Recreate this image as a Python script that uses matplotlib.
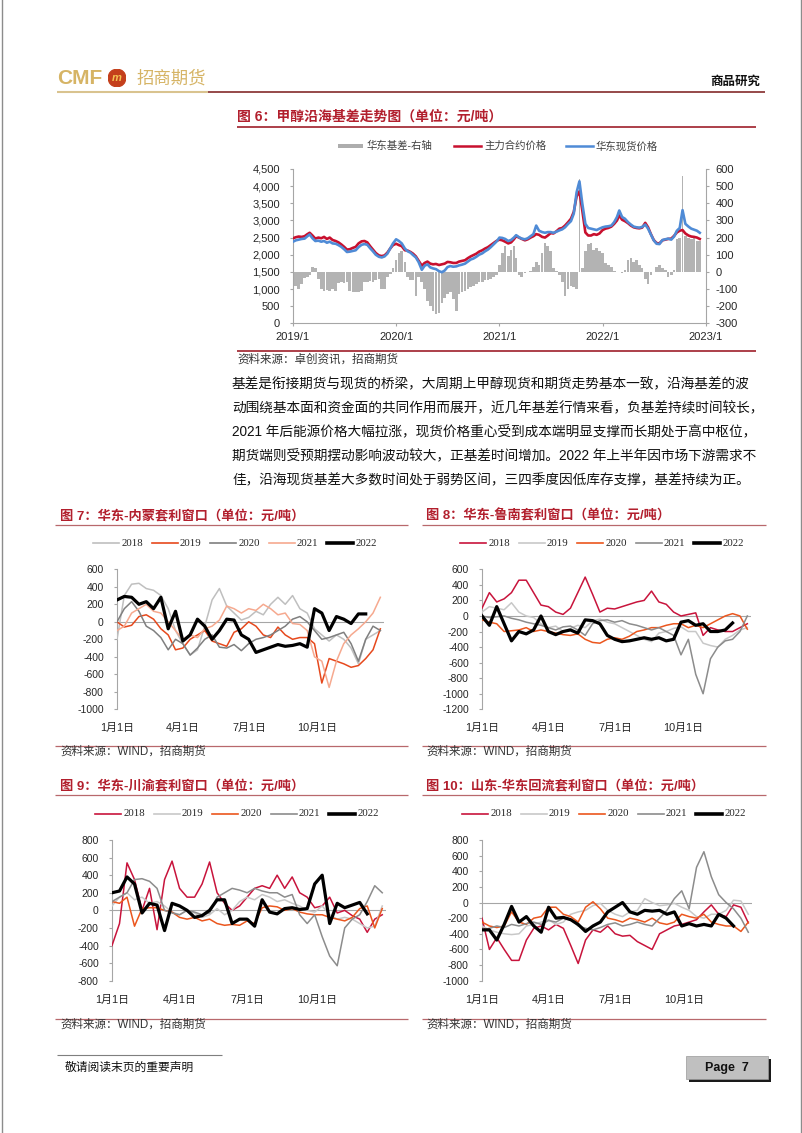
import numpy as np
import pandas as pd
import matplotlib
matplotlib.use('Agg')
import matplotlib.pyplot as plt
import matplotlib.dates as mdates
from matplotlib.lines import Line2D
from matplotlib.patches import Rectangle, Circle
from matplotlib.ticker import FuncFormatter

plt.rcParams['font.family'] = ['Liberation Sans', 'Noto Sans CJK SC']
plt.rcParams['axes.unicode_minus'] = False

# ---------------- figure 6: methanol coastal basis (3 points per month: 1st, 11th, 21st)
fut_2019 = [2480, 2510, 2530, 2520, 2540, 2600, 2640, 2560, 2470, 2500, 2480, 2520,
            2460, 2500, 2430, 2400, 2360, 2300, 2230, 2150, 2160, 2200, 2230, 2330,
            2390, 2400, 2360, 2250, 2150, 2050, 1980, 1960, 1980, 2060, 2180, 2280]
fut_2020 = [2320, 2280, 2250, 2130, 2120, 2080, 2030, 1950, 1820, 1680, 1760, 1800,
            1740, 1720, 1730, 1700, 1720, 1740, 1790, 1780, 1760, 1760, 1800, 1820,
            1840, 1900, 1950, 1990, 2030, 2090, 2130, 2180, 2220, 2280, 2340, 2400]
fut_2021 = [2440, 2420, 2380, 2330, 2360, 2450, 2540, 2500, 2460, 2420, 2450, 2500,
            2540, 2600, 2580, 2520, 2500, 2560, 2630, 2620, 2680, 2760, 2780, 2850,
            2950, 3050, 3250, 3700, 3850, 3300, 2650, 2560, 2560, 2600, 2580, 2620]
fut_2022 = [2720, 2760, 2780, 2820, 2900, 3000, 3150, 3020, 2980, 2920, 2850, 2800,
            2780, 2770, 2790, 2930, 2800, 2600, 2430, 2340, 2330, 2420, 2440, 2460,
            2470, 2550, 2650, 2700, 2720, 2620, 2560, 2530, 2520, 2500, 2460]

spot_2019 = [2380, 2420, 2440, 2460, 2470, 2540, 2590, 2480, 2400, 2410, 2380, 2400,
             2350, 2380, 2330, 2320, 2280, 2230, 2160, 2080, 2090, 2110, 2130, 2220,
             2290, 2310, 2290, 2190, 2100, 2000, 1940, 1920, 1950, 2030, 2180, 2330]
spot_2020 = [2450, 2400, 2330, 2180, 2100, 2060, 1990, 1920, 1780, 1560, 1680, 1720,
             1630, 1600, 1580, 1520, 1490, 1540, 1640, 1670, 1650, 1660, 1690, 1710,
             1740, 1800, 1860, 1890, 1940, 2000, 2040, 2100, 2150, 2220, 2300, 2380]
spot_2021 = [2500, 2490, 2460, 2400, 2430, 2500, 2570, 2510, 2470, 2450, 2480, 2540,
             2600, 2850, 2700, 2660, 2640, 2660, 2660, 2640, 2670, 2710, 2740, 2800,
             2900, 2980, 3200, 3820, 4140, 3500, 2900, 2780, 2760, 2740, 2720, 2760]
spot_2022 = [2800, 2820, 2830, 2850, 2950, 3100, 3290, 3100, 3050, 2950, 2880, 2820,
             2800, 2790, 2810, 2880, 2760, 2590, 2420, 2320, 2310, 2430, 2450, 2470,
             2440, 2530, 2700, 2780, 3300, 2900, 2820, 2760, 2730, 2700, 2640]

bas_2019 = [-90, -85, -100, -70, -35, -30, -20, 30, 25, -40, -100, -110,
            -105, -110, -100, -110, -65, -60, -65, -60, -110, -115, -120, -115,
            -110, -60, -60, -55, -60, -50, -40, -100, -100, -30, -10, 20]
bas_2020 = [70, 110, 120, 60, -30, -50, -50, -140, -30, -60, -100, -170,
            -200, -230, -245, -240, -180, -150, -130, -120, -160, -230, -130, -120,
            -110, -100, -90, -80, -70, -60, -60, -50, -45, -40, -30, -20]
bas_2021 = [40, 110, 150, 90, 130, 150, 80, -20, -30, -5, 0, 5,
            30, 60, 40, 110, 170, 150, 120, 20, 5, -20, -60, -140,
            -100, -80, -90, -100, 540, 20, 120, 160, 170, 130, 140, 120]
bas_2022 = [110, 50, 40, 30, 5, 0, 0, -5, 10, 70, 80, 60,
            70, 40, 20, -40, -70, -20, 0, 30, 40, 25, 10, -30,
            -20, 10, 190, 200, 560, 210, 200, 190, 200, 180, 180]

futures = fut_2019 + fut_2020 + fut_2021 + fut_2022
spot = spot_2019 + spot_2020 + spot_2021 + spot_2022
basis = bas_2019 + bas_2020 + bas_2021 + bas_2022
dates6 = [pd.Timestamp(y, m, d) for y in range(2019, 2023)
          for m in range(1, 13) for d in (1, 11, 21)][:len(basis)]
year_ticks = ['2019/1', '2020/1', '2021/1', '2022/1', '2023/1']

# ---------------- figures 7-10: seasonal arbitrage windows (every 10 days from Jan 1)
YEARS = ['2018', '2019', '2020', '2021', '2022']
month_labels = ['1月1日', '4月1日', '7月1日', '10月1日']

nm_2018 = [-200, 300, 430, 440, 380, 360, 300, 150, -100, -250, -380, -320, -50, 250, 380, 180, 100, 20, 50,
           120, 80, 200, 280, 200, 300, 150, 100, -80, -150, -220, -150, -200, -300, -480, -200, -150, -100]
nm_2019 = [0, -60, -40, 60, 80, 30, -80, -150, -320, -300, -200, -150, -100, -220, -250, -280, -120, -80, 0,
           -50, -150, -180, -60, -150, -200, -180, -180, -250, -700, -420, -450, -480, -520, -500, -420, -320, -80]
nm_2020 = [0, 150, 230, 120, -50, -100, -180, -320, -200, -250, -380, -300, -200, -150, -290, -300, -260, -330, -250,
           -200, -180, -150, -100, -50, 30, 60, 0, -100, -200, -180, -150, -120, -250, -450, -200, -50, -100]
nm_2021 = [-100, -50, 100, 150, 200, 120, 100, 0, -100, -200, -150, -180, -80, -50, 20, 180, 150, 100, 150,
           130, 200, 150, 80, 100, -20, -30, -100, -400, -450, -750, -450, -250, -150, -80, 0, 100, 280]
nm_2022 = [250, 290, 280, 200, 230, 150, 280, -80, 120, -220, -150, 30, -50, -200, -100, 30, 20, -150, -200,
           -350, -320, -290, -260, -280, -270, -250, -290, 150, 100, -100, 60, 30, -20, 90, 90]

ln_2018 = [100, 300, 180, 220, 300, 460, 460, 300, 140, 120, 50, 20, 100, 300, 500, 280, 50, 100, 90,
           120, 150, 180, 200, 320, 180, 150, 50, 0, 20, 40, -250, -150, -180, -200, -200, -150, -100]
ln_2019 = [50, 120, 100, 80, 170, 50, 0, -20, -100, -150, -130, -200, -160, -120, -150, -60, -40, -80, -100,
           -150, -200, -250, -300, -330, -220, -200, -160, -140, -200, -200, -350, -380, -400, -300, -250, -180, -150]
ln_2020 = [-50, -80, -100, -200, -190, -180, -150, -200, -180, -200, -220, -240, -250, -230, -300, -340, -350, -300, -280,
           -300, -260, -200, -180, -150, -150, -120, -100, -100, -150, -120, -150, -100, -50, 0, 30, 0, -170]
ln_2021 = [0, -20, -10, 0, -30, -50, -80, -100, -120, -150, -180, -140, -130, -180, -250, -100, -60, -50, -80,
           -60, -100, -120, -150, -180, -150, -200, -250, -500, -300, -750, -1000, -550, -400, -320, -300, -200, 0]
ln_2022 = [0, -120, 120, -100, -320, -200, -230, -180, 0, -200, -240, -200, -180, -220, -50, -60, -100, -250, -300,
           -330, -320, -300, -280, -300, -280, -320, -300, -80, -60, -120, -100, -200, -200, -180, -90]

cy_2018 = [-400, -150, 540, 350, 0, 250, -220, 350, 560, 250, 150, 150, 300, 550, 200, 80, 0, 50, 150,
           250, 280, 250, 400, 250, 380, 200, 150, 30, 50, 150, -30, 0, -60, -100, -250, -100, -50]
cy_2019 = [50, 150, 200, 120, 150, 80, 100, 50, -20, -50, 0, -30, -80, -50, 20, -50, 0, 100, 150,
           120, 180, 150, 100, 120, 80, 50, 0, -20, 50, -50, -100, -80, -100, -150, -200, -180, 50]
cy_2020 = [100, 80, 150, -180, 20, 30, 30, 0, -20, -80, -100, -80, -120, -100, -150, -170, -160, -170, -120,
           -150, 30, 50, 40, 0, 20, -20, -40, -50, -50, -80, -100, -120, -80, 20, 50, -200, 20]
cy_2021 = [100, 150, 200, 350, 360, 330, 250, 0, -30, -50, 0, -20, -50, -30, 150, 200, 250, 230, 200,
           250, 220, 200, 200, 150, 180, -50, -150, -50, -300, -520, -630, -200, -100, -50, 100, 280, 200]
cy_2022 = [200, 220, 380, 300, -30, 80, 60, -230, 80, 50, 0, -80, -60, 0, 120, 120, -150, -100, -100,
           -180, 120, -20, -40, 20, 30, 10, 20, 300, 400, -150, 80, 30, 60, 90, -40]

sd_2018 = [-200, -600, -450, -600, -740, -740, -480, -330, -300, -350, -280, -330, -550, -780, -480, -350, -380, -300, -400,
           -430, -420, -500, -550, -600, -400, -350, -300, -280, -250, -220, -120, -30, -150, -180, -30, -60, -260]
sd_2019 = [-300, -350, -380, -400, -410, -400, -300, -280, -250, -220, -280, -250, -150, -120, -100, -40, -10, -100, -150,
           -180, -120, -100, 50, 0, -40, -30, -10, -60, -100, -180, -200, -150, -150, -100, 30, 20, -150]
sd_2020 = [-250, -300, -320, -300, -120, -250, -280, -200, -180, -60, -60, -150, -180, -250, -60, 10, -80, -200, -220,
           -250, -200, -220, -250, -200, -260, -280, -250, -150, -180, -200, -150, -250, -280, -300, -300, -370, -250]
sd_2021 = [-350, -330, -300, -320, -280, -300, -270, -250, -280, -230, -250, -200, -220, -300, -330, -350, -320, -280, -260,
           -300, -280, -250, -280, -300, -200, -100, 50, 150, -80, 450, 650, 330, 100, 0, -80, -200, -380]
sd_2022 = [-350, -350, -480, -280, -50, -250, -180, -300, -380, -60, -200, -190, -220, -280, -370, -300, -250, -120, -60,
           0, -120, -150, -100, -110, -100, -150, -120, -300, -270, -300, -280, -300, -150, -200, -300]

DAYS = np.arange(0, 361, 10)
MONTH_POS = [0, 90, 181, 273]

paragraph = [
    '基差是衔接期货与现货的桥梁，大周期上甲醇现货和期货走势基本一致，沿海基差的波',
    '动围绕基本面和资金面的共同作用而展开，近几年基差行情来看，负基差持续时间较长，',
    '2021 年后能源价格大幅拉涨，现货价格重心受到成本端明显支撑而长期处于高中枢位，',
    '期货端则受预期摆动影响波动较大，正基差时间增加。2022 年上半年因市场下游需求不',
    '佳，沿海现货基差大多数时间处于弱势区间，三四季度因低库存支撑，基差持续为正。',
]

W, H = 802, 1133
fig = plt.figure(figsize=(W / 100, H / 100), dpi=100)

TITLE_RED = '#B21F2D'
AXIS_GRAY = '#A6A6A6'
TEXT_DARK = '#262626'


def px_rect(l, t, r, b):
    return [l / W, 1 - b / H, (r - l) / W, (b - t) / H]


def hline(x0, x1, y, color, lw):
    fig.add_artist(Line2D([x0 / W, x1 / W], [1 - y / H, 1 - y / H], transform=fig.transFigure,
                          color=color, lw=lw, solid_capstyle='butt'))


def txt(x, y, s, **kw):
    kw.setdefault('va', 'center')
    return fig.text(x / W, 1 - y / H, s, **kw)


def box(x, y, w, h, **kw):
    fig.add_artist(Rectangle((x / W, 1 - (y + h) / H), w / W, h / H, transform=fig.transFigure, **kw))


# ---------------- page header / frame
fig.add_artist(Line2D([1.5 / W, 1.5 / W], [0, 1], transform=fig.transFigure, color='#8c8c8c', lw=1))
fig.add_artist(Line2D([800.5 / W, 800.5 / W], [0, 1], transform=fig.transFigure, color='#8c8c8c', lw=1))
txt(57, 78, 'CMF', fontsize=15, weight='bold', color='#D6B465')
ax_logo = fig.add_axes(px_rect(108, 69, 126, 87))
ax_logo.set_xlim(-1, 1)
ax_logo.set_ylim(-1, 1)
ax_logo.set_aspect('equal')
ax_logo.axis('off')
ax_logo.add_patch(Circle((0, 0), 0.98, color='#C4401C'))
ax_logo.text(0, -0.05, 'm', ha='center', va='center', fontsize=8, weight='bold', style='italic', color='#F4C453')
txt(137, 78, '招商期货', fontsize=12.5, color='#D6B465')
txt(760, 82, '商品研究', fontsize=9, weight='bold', color='#111111', ha='right')
hline(57, 208, 91.5, '#D9C38F', 1.5)
hline(208, 765, 92, '#8E3B3B', 1.3)

# ---------------- figure 6
txt(237, 117, '图 6：甲醇沿海基差走势图（单位：元/吨）', fontsize=10, weight='bold', color=TITLE_RED)
hline(237, 756, 127, '#9E1F2A', 1.2)

box(338, 144.5, 25, 4, color='#ADADAD', lw=0)
txt(367, 146, '华东基差-右轴', fontsize=7.5, color='#404040')
fig.add_artist(Line2D([454 / W, 481 / W], [1 - 146 / H] * 2, transform=fig.transFigure, color='#C8102E', lw=1.8))
txt(484, 146, '主力合约价格', fontsize=7.5, color='#404040')
fig.add_artist(Line2D([566 / W, 593 / W], [1 - 146 / H] * 2, transform=fig.transFigure, color='#4F8BD6', lw=1.8))
txt(596, 146, '华东现货价格', fontsize=7.5, color='#404040')

x6 = mdates.date2num(dates6)
x_lo = mdates.date2num(pd.Timestamp('2019-01-01'))
x_hi = mdates.date2num(pd.Timestamp('2023-01-01'))
r6 = px_rect(293, 169, 705.7, 323.3)

ax_b = fig.add_axes(r6)
bar_w = [2.5 if abs(v) > 400 else 9.5 for v in basis]
ax_b.bar(x6, basis, width=bar_w, color='#B3B3B3', linewidth=0)
ax_b.set_xlim(x_lo, x_hi)
ax_b.set_ylim(-300, 600)
ax_b.set_yticks(range(-300, 601, 100))
ax_b.yaxis.tick_right()
ax_b.tick_params(axis='y', direction='out', length=2, color=AXIS_GRAY, labelsize=8, pad=5, labelcolor=TEXT_DARK)
ax_b.tick_params(axis='x', bottom=False, labelbottom=False)
for s in ['top', 'left', 'bottom']:
    ax_b.spines[s].set_visible(False)
ax_b.spines['right'].set_color(AXIS_GRAY)
ax_b.patch.set_alpha(0)

ax_p = fig.add_axes(r6)
ax_p.plot(x6, futures, color='#C8102E', lw=1.9, zorder=3)
ax_p.plot(x6, spot, color='#4F8BD6', lw=1.9, zorder=4)
ax_p.set_xlim(x_lo, x_hi)
ax_p.set_ylim(0, 4500)
ax_p.set_yticks(range(0, 4501, 500))
ax_p.yaxis.set_major_formatter(FuncFormatter(lambda v, p: f'{int(v):,}'))
ax_p.set_xticks([mdates.date2num(pd.Timestamp(y, 1, 1)) for y in range(2019, 2024)])
ax_p.set_xticklabels(year_ticks)
ax_p.tick_params(axis='y', direction='out', length=2, color=AXIS_GRAY, labelsize=8, pad=7.5, labelcolor=TEXT_DARK)
ax_p.tick_params(axis='x', direction='out', length=2, color=AXIS_GRAY, labelsize=8, pad=4, labelcolor=TEXT_DARK)
for s in ['top', 'right']:
    ax_p.spines[s].set_visible(False)
for s in ['left', 'bottom']:
    ax_p.spines[s].set_color(AXIS_GRAY)
ax_p.patch.set_alpha(0)

hline(237, 756, 351, '#9E1F2A', 1.2)
txt(237, 360, '资料来源：卓创资讯，招商期货', fontsize=8.3, color='#333333')

for i, line in enumerate(paragraph):
    txt(232, 384 + 24 * i, line, fontsize=9.85, color='#111111')


# ---------------- figures 7-10
def season_panel(rect, ylo, yhi, series, colors):
    ax = fig.add_axes(px_rect(*rect))
    for vals, c, yr in zip(series, colors, YEARS):
        heavy = yr == '2022'
        ax.plot(DAYS[:len(vals)], vals, color=c, lw=2.3 if heavy else 1.1, zorder=4 if heavy else 3)
    ax.axhline(0, color=AXIS_GRAY, lw=0.8, zorder=2)
    ax.set_xlim(0, 365)
    ax.set_ylim(ylo, yhi)
    ax.set_yticks(range(ylo, yhi + 1, 200))
    ax.set_xticks(MONTH_POS)
    ax.set_xticklabels(month_labels)
    ax.tick_params(axis='y', direction='out', length=2.5, color=AXIS_GRAY, labelsize=7.5, pad=7, labelcolor=TEXT_DARK)
    ax.tick_params(axis='x', length=0, labelsize=7.8, pad=10, labelcolor=TEXT_DARK)
    for s in ['top', 'right', 'bottom']:
        ax.spines[s].set_visible(False)
    ax.spines['left'].set_color(AXIS_GRAY)
    ax.patch.set_alpha(0)
    return ax


def season_legend(x0, y, colors):
    for i, (yr, c) in enumerate(zip(YEARS, colors)):
        xs = x0 + i * 58.5
        fig.add_artist(Line2D([xs / W, (xs + 26) / W], [1 - y / H] * 2, transform=fig.transFigure,
                              color=c, lw=2.6 if yr == '2022' else 1.2))
        txt(xs + 28.5, y, yr, fontsize=7.8, family='Liberation Serif', color=TEXT_DARK)


def panel_frame(x_title, x0, x1, y_title, y_src, title):
    txt(x_title, y_title, title, fontsize=9.5, weight='bold', color=TITLE_RED)
    hline(x0, x1, y_title + 9, '#B8686C', 0.9)
    hline(x0, x1, y_src - 6, '#B8686C', 0.9)
    txt(x_title, y_src, '资料来源：WIND，招商期货', fontsize=8.3, color='#333333')


c_nm = ['#BFBFBF', '#E6491D', '#7F7F7F', '#F6A98F', '#000000']
c_other = ['#C8143C', '#C8C8C8', '#EB561E', '#8C8C8C', '#000000']

panel_frame(60, 55, 408, 516, 752, '图 7：华东-内蒙套利窗口（单位：元/吨）')
season_legend(93, 543, c_nm)
season_panel((117, 569.3, 384, 709.3), -1000, 600, [nm_2018, nm_2019, nm_2020, nm_2021, nm_2022], c_nm)

panel_frame(426, 422, 766, 516, 752, '图 8：华东-鲁南套利窗口（单位：元/吨）')
season_legend(460, 543, c_other)
season_panel((482, 569.3, 751, 709.3), -1200, 600, [ln_2018, ln_2019, ln_2020, ln_2021, ln_2022], c_other)

panel_frame(60, 55, 408, 786, 1025, '图 9：华东-川渝套利窗口（单位：元/吨）')
season_legend(95, 814, c_other)
season_panel((112, 840, 386, 980.7), -800, 800, [cy_2018, cy_2019, cy_2020, cy_2021, cy_2022], c_other)

panel_frame(426, 422, 766, 786, 1025, '图 10：山东-华东回流套利窗口（单位：元/吨）')
season_legend(462, 814, c_other)
season_panel((482, 840, 752, 980.7), -1000, 800, [sd_2018, sd_2019, sd_2020, sd_2021, sd_2022], c_other)

# ---------------- footer
hline(57, 222, 1055, '#7F7F7F', 0.8)
txt(65, 1068, '敬请阅读末页的重要声明', fontsize=8.5, color='#111111')
box(688.5, 1058.5, 82, 23, color='#1a1a1a', lw=0)
box(686, 1056, 82, 23, facecolor='#C0C0C0', edgecolor='#9a9a9a', lw=0.5)
txt(727, 1067.5, 'Page  7', fontsize=9, weight='bold', color='#111111', ha='center')

fig.savefig('out.png', dpi=100)
